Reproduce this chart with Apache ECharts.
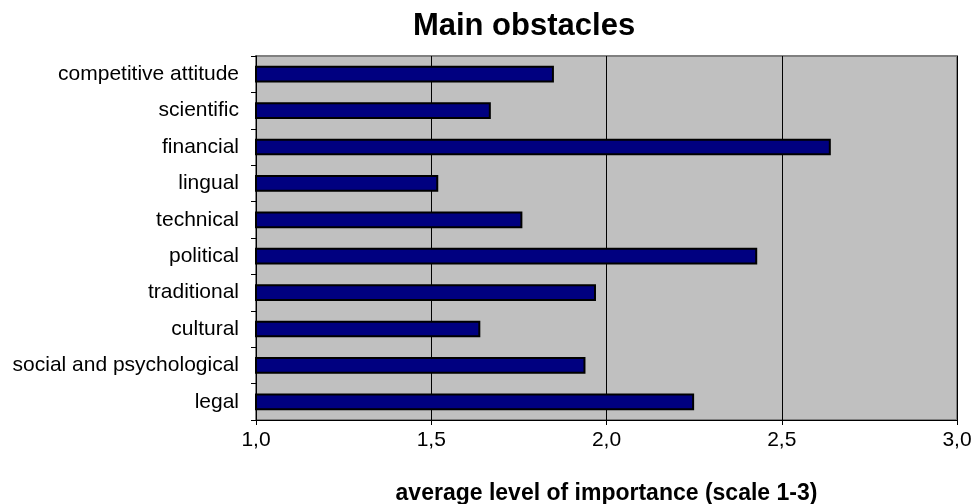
<!DOCTYPE html>
<html>
<head>
<meta charset="utf-8">
<script src="https://cdn.jsdelivr.net/npm/echarts@6/dist/echarts.min.js"></script>
<style>
  html, body { margin: 0; padding: 0; background: #fff; }
  #main { width: 976px; height: 504px; }
</style>
</head>
<body>
<div id="main"></div>
<script>
// chart data
var categories = ['competitive attitude', 'scientific', 'financial', 'lingual', 'technical',
  'political', 'traditional', 'cultural', 'social and psychological', 'legal'];
var importance = [1.85, 1.67, 2.64, 1.52, 1.76, 2.43, 1.97, 1.64, 1.94, 2.25];
var xTicks = [1.0, 1.5, 2.0, 2.5, 3.0];

var chart = echarts.init(document.getElementById('main'));
chart.setOption({
  animation: false,
  textStyle: { fontFamily: 'Liberation Sans, Arial, sans-serif' },
  title: {
    text: 'Main obstacles',
    left: 519,
    textAlign: 'center',
    top: 6,
    textStyle: { fontSize: 31, fontWeight: 'bold', color: '#000' }
  },
  grid: {
    left: 256, right: 19, top: 56, bottom: 84,
    outerBoundsMode: 'none',
    show: true,
    backgroundColor: '#c0c0c0',
    borderColor: '#808080',
    borderWidth: 2
  },
  xAxis: {
    type: 'value',
    min: xTicks[0],
    max: xTicks[xTicks.length - 1],
    interval: 0.5,
    name: 'average level of importance (scale 1-3)',
    nameLocation: 'middle',
    nameGap: 62,
    nameTextStyle: { fontSize: 23, fontWeight: 'bold', color: '#000' },
    axisLine: { show: true, lineStyle: { color: '#000', width: 1 } },
    axisTick: { show: true, length: 5, lineStyle: { color: '#000' } },
    axisLabel: {
      fontSize: 21, color: '#000', margin: 10,
      formatter: function (v) { return v.toFixed(1).replace('.', ','); }
    },
    splitLine: { show: true, lineStyle: { color: '#000', width: 1 } }
  },
  yAxis: {
    type: 'category',
    data: categories,
    inverse: true,
    axisLine: { show: true, lineStyle: { color: '#000', width: 1 } },
    axisTick: { show: true, length: 5, lineStyle: { color: '#000' } },
    axisLabel: { fontSize: 21, color: '#000', margin: 17 }
  },
  series: [{
    type: 'bar',
    data: importance,
    barWidth: '46%',
    itemStyle: { color: '#000080', borderColor: '#000', borderWidth: 2 }
  }]
});
</script>
</body>
</html>
